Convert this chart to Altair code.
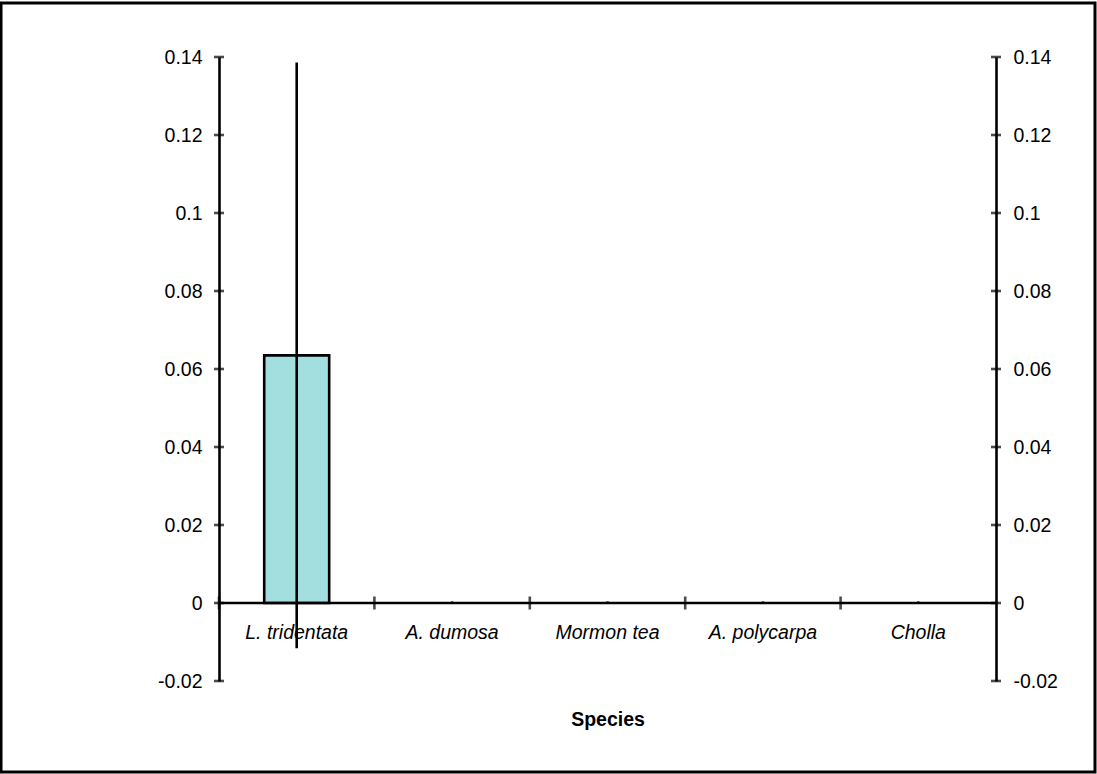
import altair as alt
import pandas as pd

species = ["L. tridentata", "A. dumosa", "Mormon tea", "A. polycarpa", "Cholla"]
mean_vals = [0.0635, 0.0, 0.0, 0.0, 0.0]
err_low = [-0.0116, 0.0, 0.0, 0.0, 0.0]
err_high = [0.1386, 0.0004, 0.0004, 0.0004, 0.0004]
y_ticks = [-0.02, 0.0, 0.02, 0.04, 0.06, 0.08, 0.10, 0.12, 0.14]

df = pd.DataFrame({"species": species, "mean": mean_vals, "lo": err_low, "hi": err_high})
tick_df = pd.DataFrame({"v": y_ticks})

W, H = 777, 624
FONT = "Liberation Sans"
FS = 19.5
LW = 2.6
ydom = [-0.02, 0.14]
label_expr = "replace(format(datum.value, '~g'), '\u2212', '-')"

xenc = alt.X(
    "species:N",
    sort=species,
    scale=alt.Scale(paddingInner=0, paddingOuter=0),
    axis=alt.Axis(
        orient="bottom", offset=-78, domain=False, ticks=False,
        labelFont=FONT, labelFontSize=FS, labelFontStyle="italic", labelColor="black",
        labelPadding=20, labelAngle=0,
        title="Species", titleFont=FONT, titleFontSize=FS, titleFontWeight="bold",
        titleColor="black", titlePadding=69,
    ),
)

yscale = alt.Scale(domain=ydom, nice=False, zero=False)

bars = alt.Chart(df).mark_bar(
    width=alt.RelativeBandSize(0.418), fill="#A3DFDF", stroke="black", strokeWidth=LW
).encode(
    x=xenc,
    y=alt.Y(
        "mean:Q", scale=yscale,
        axis=alt.Axis(
            orient="left", values=y_ticks, grid=False, tickSize=0, domainColor="black",
            domainWidth=LW, labelFont=FONT, labelFontSize=FS, labelColor="black",
            labelPadding=17, labelExpr=label_expr, title=None,
        ),
    ),
    opacity=alt.condition("datum.mean > 0", alt.value(1), alt.value(0)),
)

errs = alt.Chart(df).mark_rule(color="black", strokeWidth=LW).encode(
    x=alt.X("species:N", sort=species),
    y=alt.Y("lo:Q", scale=yscale),
    y2="hi:Q",
)

zero_line = alt.Chart(tick_df).mark_rule(color="black", strokeWidth=LW).encode(
    y=alt.Y("zero:Q", scale=yscale)
).transform_calculate(zero="0").transform_filter("datum.v == 0")

xticks = alt.Chart(df).mark_tick(
    orient="vertical", size=13, thickness=LW, color="black"
).encode(
    x=alt.X("species:N", sort=species, bandPosition=0),
    y=alt.Y("zero:Q", scale=yscale),
).transform_calculate(zero="0")

left_ticks = alt.Chart(tick_df).mark_tick(
    orient="horizontal", size=10, thickness=LW, color="black"
).encode(
    x=alt.value(0),
    y=alt.Y("v:Q", scale=yscale),
)

right_ticks = alt.Chart(tick_df).mark_tick(
    orient="horizontal", size=10, thickness=LW, color="black"
).encode(
    x=alt.value(W),
    y=alt.Y(
        "v:Q", scale=yscale,
        axis=alt.Axis(
            orient="right", values=y_ticks, grid=False, tickSize=0, domainColor="black",
            domainWidth=LW, labelFont=FONT, labelFontSize=FS, labelColor="black",
            labelPadding=17, labelExpr=label_expr, title=None,
        ),
    ),
)

frame = alt.Chart(tick_df).mark_rect(fill=None, stroke="black", strokeWidth=3).encode(
    x=alt.value(-218), x2=alt.value(876), y=alt.value(-54), y2=alt.value(715)
).transform_filter("datum.v == 0")

left_group = alt.layer(bars, errs, zero_line, xticks, left_ticks)

chart = alt.layer(left_group, right_ticks, frame).resolve_scale(y="independent").properties(
    width=W, height=H,
    autosize=alt.AutoSizeParams(type="none"),
    padding={"left": 219, "top": 57, "right": 101, "bottom": 93},
    background="white",
).configure_view(stroke=None)

chart.save("out.html", embed_options={"renderer": "svg", "actions": False})
